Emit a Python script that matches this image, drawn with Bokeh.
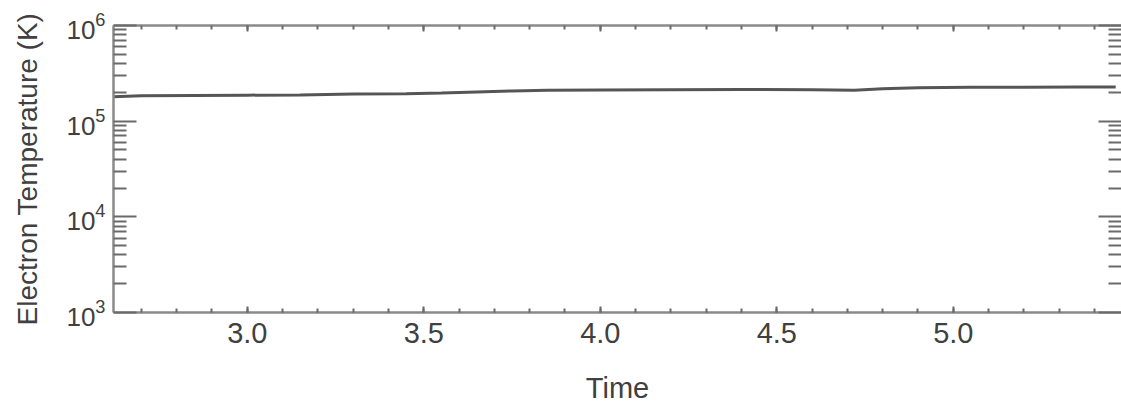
from bokeh.plotting import figure
from bokeh.models import (Range1d, LinearAxis, LogAxis, FixedTicker, SingleIntervalTicker,
                          PrintfTickFormatter, CustomJSTickFormatter, LogTickFormatter)
from bokeh.embed import file_html
from bokeh.resources import INLINE

# ---- data ----
time = [2.62, 2.70, 2.85, 3.00, 3.15, 3.30, 3.45, 3.55, 3.65, 3.75, 3.85, 4.00,
        4.20, 4.40, 4.60, 4.72, 4.80, 4.90, 5.05, 5.20, 5.35, 5.46]
electron_temp = [1.80e5, 1.84e5, 1.86e5, 1.87e5, 1.88e5, 1.92e5, 1.94e5, 1.97e5,
                 2.02e5, 2.07e5, 2.10e5, 2.12e5, 2.13e5, 2.14e5, 2.13e5, 2.10e5,
                 2.18e5, 2.24e5, 2.26e5, 2.26e5, 2.27e5, 2.27e5]
y_tick_exponents = [3, 4, 5, 6]
x_label = "Time"
y_label = "Electron Temperature (K)"

FONT = "Liberation Sans"
TXT = "#404040"
AX = "#8a8a8a"

W, H = 1121, 409
LEFT, TOP, BOTTOM_Y = 113, 25, 312
x_start = 2.621
x_end = x_start + (W - LEFT) / 353.0
y_start, y_end = 10.0 ** y_tick_exponents[0], 10.0 ** y_tick_exponents[-1]

p = figure(width=W, height=H, x_range=Range1d(x_start, x_end),
           y_range=Range1d(y_start, y_end), y_axis_type="log",
           output_backend="svg", toolbar_location=None,
           min_border_left=LEFT, min_border_right=0, min_border_top=TOP,
           min_border_bottom=H - BOTTOM_Y)
p.outline_line_color = None
p.grid.visible = False
p.background_fill_color = "white"

x_ticker = SingleIntervalTicker(interval=0.5, num_minor_ticks=5)
y_major = [10.0 ** k for k in y_tick_exponents]
y_minor = [m * 10.0 ** k for k in y_tick_exponents[:-1] for m in range(2, 10)]
y_ticker = FixedTicker(ticks=y_major, minor_ticks=y_minor)
blank = CustomJSTickFormatter(code="return ''")

def style_common(ax):
    ax.axis_line_color = AX
    ax.axis_line_width = 2.5
    ax.major_tick_line_color = "#6a6a6a"
    ax.minor_tick_line_color = "#6a6a6a"
    ax.major_tick_line_width = 2
    ax.minor_tick_line_width = 2
    ax.major_tick_out = 0
    ax.minor_tick_out = 0

def hide_labels(ax):
    ax.formatter = blank
    ax.major_label_text_color = None
    ax.major_label_standoff = 0

def style_x(ax):
    style_common(ax)
    ax.ticker = x_ticker
    ax.major_tick_in = 6
    ax.minor_tick_in = 4

def style_y(ax):
    style_common(ax)
    ax.ticker = y_ticker
    ax.major_tick_in = 23
    ax.minor_tick_in = 13

bx = p.xaxis[0]
style_x(bx)
bx.formatter = PrintfTickFormatter(format="%.1f")
bx.major_label_text_font = FONT
bx.major_label_text_font_size = "29px"
bx.major_label_text_color = TXT
bx.major_label_standoff = 10
bx.axis_label = x_label
bx.axis_label_text_font = FONT
bx.axis_label_text_font_size = "29px"
bx.axis_label_text_font_style = "normal"
bx.axis_label_text_color = TXT
bx.axis_label_standoff = 26

ly = p.yaxis[0]
style_y(ly)
ly.formatter = LogTickFormatter()
ly.major_label_text_font = FONT
ly.major_label_text_font_size = "26px"
ly.major_label_text_color = TXT
ly.major_label_standoff = 8
ly.axis_label = y_label
ly.axis_label_text_font = FONT
ly.axis_label_text_font_size = "28px"
ly.axis_label_text_font_style = "normal"
ly.axis_label_text_color = TXT
ly.axis_label_standoff = 20

top = LinearAxis()
style_x(top)
hide_labels(top)
p.add_layout(top, "above")

right = LogAxis()
style_y(right)
hide_labels(right)
right.axis_line_color = None
p.add_layout(right, "right")

p.line(time, electron_temp, line_width=3, line_color="#555555")

open("out.html", "w").write(file_html(p, INLINE))
